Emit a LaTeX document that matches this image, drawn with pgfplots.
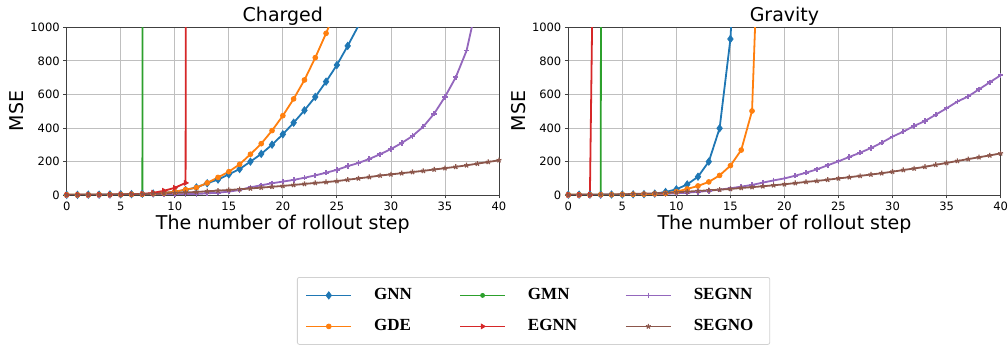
\documentclass[border=0pt]{standalone}
\usepackage{fontspec}
\setmainfont{DejaVu Sans}
\newfontfamily\legfont{Liberation Serif}
\usepackage{pgfplots}
\pgfplotsset{compat=1.18}
\definecolor{cBlue}{HTML}{1F77B4}
\definecolor{cOrange}{HTML}{FF7F0E}
\definecolor{cGreen}{HTML}{2CA02C}
\definecolor{cRed}{HTML}{D62728}
\definecolor{cPurple}{HTML}{9467BD}
\definecolor{cBrown}{HTML}{8C564B}
\pgfplotsset{
  myaxis/.style={
    scale only axis, width=432.3bp, height=167.7bp,
    xmin=0, xmax=40, ymin=0, ymax=1000,
    xtick={0,5,...,40}, ytick={0,200,...,1000},
    grid=major, major grid style={black!25, line width=0.8bp},
    axis line style={black!75, line width=0.8bp},
    tick align=outside, tick pos=left,
    major tick length=3.5bp,
    tick style={black!75, line width=0.8bp},
    ticklabel style={font=\fontsize{11.5bp}{13bp}\selectfont},
    /pgf/number format/assume math mode=true,
    /pgf/number format/set thousands separator={},
    scaled y ticks=false,
    title style={at={(axis description cs:0.5,1.03)}, anchor=center, font=\fontsize{19bp}{22bp}\selectfont},
    xlabel style={at={(axis description cs:0.5,-0.172)}, anchor=center, font=\fontsize{19bp}{22bp}\selectfont},
    ylabel style={at={(axis description cs:-0.115,0.5)}, anchor=center, font=\fontsize{19bp}{22bp}\selectfont},
    xlabel={The number of rollout step}, ylabel={MSE},
    legend image code/.code={\draw[mark repeat=2,mark phase=2] plot coordinates {(0bp,0bp) (22.5bp,0bp) (45bp,0bp)};},
  },
  sGNN/.style={cBlue, line width=1.8bp, mark=diamond*, mark size=3.6bp, mark options={solid, line width=0.8bp, fill=cBlue}},
  sGDE/.style={cOrange, line width=1.8bp, mark=*, mark size=2.4bp, mark options={line width=0.8bp}},
  sGMN/.style={cGreen, line width=1.8bp, mark=*, mark size=2bp, mark options={line width=0.8bp}},
  sEGNN/.style={cRed, line width=1.8bp, mark=triangle*, mark size=2.7bp, mark options={rotate=-90, line width=0.8bp}},
  sSEGNN/.style={cPurple, line width=1.8bp, mark=+, mark size=2.7bp, mark options={line width=1.7bp}},
  sSEGNO/.style={cBrown, line width=1.8bp, mark=star, mark size=2.6bp, mark options={line width=1.2bp}},
}
\begin{document}
\begin{tikzpicture}
\useasboundingbox (0,0) rectangle (1008bp,345bp);
% ---------------- Charged ----------------
\begin{axis}[myaxis, at={(66.7bp,150bp)}, anchor=south west, title={Charged},
  legend columns=3,
  legend style={at={(axis description cs:0.5327,-0.489)}, anchor=north west,
    draw=black!18, line width=0.8bp, rounded corners=2bp, fill=white,
    font=\legfont\bfseries\fontsize{17bp}{20bp}\selectfont,
    inner xsep=8bp, inner ysep=10bp, row sep=15bp,
    nodes={inner sep=0pt, text height=12bp, text depth=4bp, text width=92bp, align=left},
    /tikz/every odd column/.style={column sep=22bp},
    /tikz/every even column/.style={column sep=0bp},
    /tikz/column 2/.style={nodes={text width=85bp}},
    /tikz/column 4/.style={nodes={text width=97bp}},
    /tikz/column 6/.style={nodes={text width=68bp}},
  },
  legend cell align=left,
]
\addplot[sGNN] coordinates {(0,1) (1,1) (2,2) (3,2) (4,3) (5,4) (6,5) (7,7) (8,9) (9,13) (10,20) (11,30) (12,45) (13,70) (14,92) (15,123) (16,155) (17,199) (18,245) (19,300) (20,362) (21,431) (22,505) (23,585) (24,676) (25,775) (26,889) (27,1010)};
\addlegendentry{GNN}
\addplot[sGMN] coordinates {(0,1) (1,1) (2,1) (3,1) (4,2) (5,2) (6,3) (7,4) (8,50000)};
\addlegendentry{GMN}
\addplot[sSEGNN] coordinates {(0,0.5) (1,0.5) (2,1) (3,1) (4,1) (5,1.5) (6,2) (7,2) (8,3) (9,3) (10,4) (11,5) (12,6) (13,10) (14,14) (15,20) (16,30) (17,46) (18,58) (19,70) (20,80) (21,90) (22,103) (23,117) (24,133) (25,150) (26,172) (27,191) (28,215) (29,243) (30,274) (31,310) (32,352) (33,408) (34,485) (35,585) (36,702) (37,861) (38,1150)};
\addlegendentry{SEGNN}
\addplot[sGDE] coordinates {(0,1) (1,1) (2,1) (3,2) (4,2) (5,3) (6,4) (7,5) (8,8) (9,12) (10,20) (11,32) (12,44) (13,72) (14,105) (15,139) (16,183) (17,243) (18,306) (19,384) (20,473) (21,573) (22,686) (23,819) (24,964) (25,1120)};
\addlegendentry{GDE}
\addplot[sEGNN] coordinates {(0,1) (1,1) (2,1) (3,2) (4,2) (5,3) (6,4) (7,6) (8,13) (9,25) (10,43) (11,72) (12,50000)};
\addlegendentry{EGNN}
\addplot[sSEGNO] coordinates {(0,0) (1,0.5) (2,1) (3,1.5) (4,2) (5,3) (6,4) (7,5) (8,7) (9,9) (10,12) (11,15) (12,18) (13,22) (14,26) (15,30) (16,34) (17,39) (18,44) (19,49) (20,54) (21,60) (22,66) (23,72) (24,77) (25,83) (26,91) (27,99) (28,107) (29,116) (30,123) (31,130) (32,137) (33,144) (34,152) (35,160) (36,168) (37,177) (38,187) (39,197) (40,207)};
\addlegendentry{SEGNO}
\end{axis}
% ---------------- Gravity ----------------
\begin{axis}[myaxis, at={(568.3bp,150bp)}, anchor=south west, title={Gravity}]
\addplot[sGNN] coordinates {(0,2) (1,2) (2,2) (3,2) (4,3) (5,3) (6,4) (7,5) (8,8) (9,18) (10,34) (11,63) (12,109) (13,199) (14,398) (15,930) (16,2100)};
\addplot[sGMN] coordinates {(0,1) (1,1) (2,1) (3,2) (4,50000)};
\addplot[sSEGNN] coordinates {(0,0.5) (1,0.5) (2,1) (3,1) (4,1.5) (5,2) (6,3) (7,4) (8,5) (9,7) (10,10) (11,14) (12,19) (13,25) (14,32) (15,40) (16,50) (17,60) (18,74) (19,87) (20,99) (21,115) (22,133) (23,153) (24,177) (25,201) (26,227) (27,252) (28,280) (29,312) (30,348) (31,378) (32,412) (33,441) (34,479) (35,517) (36,557) (37,588) (38,630) (39,672) (40,714)};
\addplot[sGDE] coordinates {(0,1) (1,1) (2,1) (3,2) (4,2) (5,3) (6,4) (7,5) (8,7) (9,10) (10,20) (11,36) (12,54) (13,78) (14,117) (15,175) (16,268) (17,501) (18,2280)};
\addplot[sEGNN] coordinates {(0,1) (1,1) (2,1) (3,5000)};
\addplot[sSEGNO] coordinates {(0,0) (1,0.5) (2,1) (3,2) (4,3) (5,4) (6,6) (7,8) (8,10) (9,13) (10,16) (11,20) (12,24) (13,28) (14,32) (15,36) (16,42) (17,47) (18,52) (19,58) (20,64) (21,71) (22,78) (23,84) (24,91) (25,99) (26,106) (27,114) (28,122) (29,130) (30,139) (31,149) (32,158) (33,168) (34,180) (35,191) (36,203) (37,214) (38,225) (39,236) (40,248)};
\end{axis}
\end{tikzpicture}
\end{document}
